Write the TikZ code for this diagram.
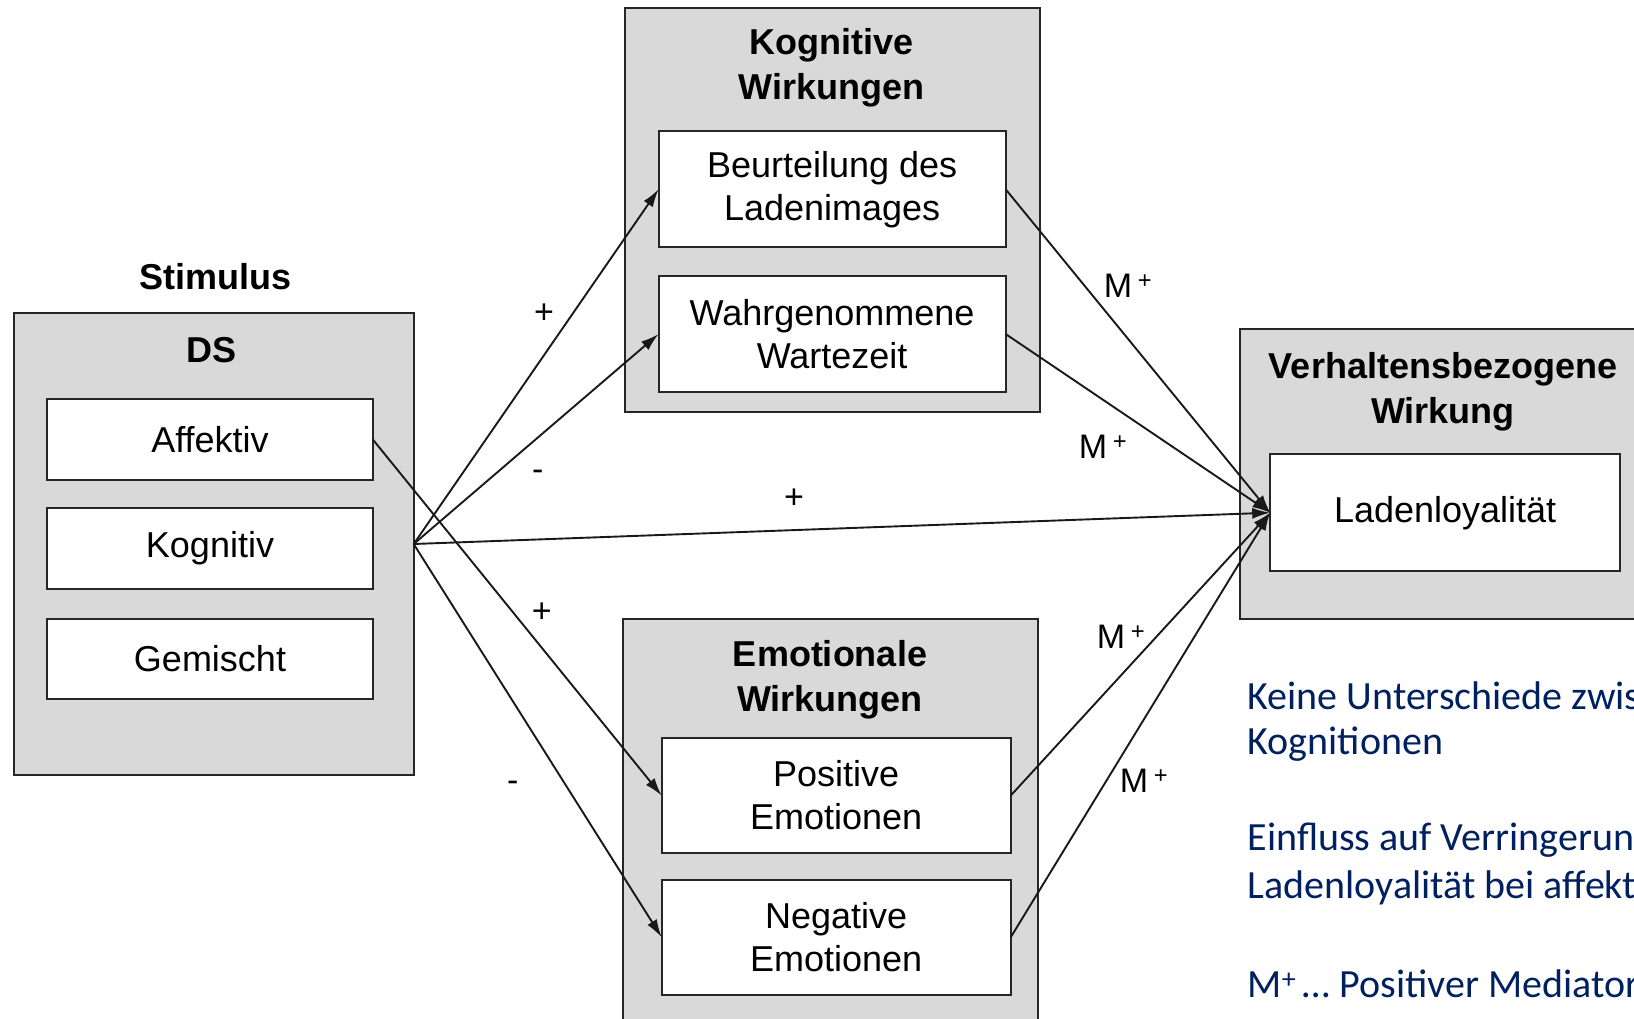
\documentclass[tikz,border=0pt]{standalone}
\usepackage{fontspec}
\setmainfont{Liberation Sans}
\newfontfamily\calib{Carlito}
\usetikzlibrary{arrows.meta}
\definecolor{boxgray}{HTML}{D9D9D9}
\definecolor{noteblue}{HTML}{002060}
\begin{document}
\begin{tikzpicture}[x=1pt,y=-1pt,
 outerbox/.style={draw=black!85, fill=boxgray, line width=2pt, inner sep=0pt, outer sep=0pt, anchor=north west},
 innerbox/.style={draw=black!85, fill=white, line width=2pt, inner sep=0pt, outer sep=0pt, align=center, font=\fontsize{36}{43}\selectfont},
 titletext/.style={font=\fontsize{36}{45}\selectfont\bfseries, align=center, inner sep=0pt},
 lab/.style={font=\fontsize{34}{40}\selectfont, inner sep=0pt},
 arr/.style={line width=1.9pt, draw=black!90, -{Latex[length=18pt,width=11pt]}},
 note/.style={font=\calib\fontsize{40}{48}\selectfont, text=noteblue, anchor=west, inner sep=0pt}
]
\useasboundingbox (0,0) rectangle (1634,1019);
\clip (0,0) rectangle (1634,1019);

% outer boxes
\node[outerbox, minimum width=400.2pt, minimum height=462.7pt] (ds) at (13.5,312.6) {};
\node[outerbox, minimum width=414.7pt, minimum height=403.3pt] (kw) at (625.3,8.3) {};
\node[outerbox, minimum width=414.8pt, minimum height=440pt] (ew) at (623.1,619) {};
\node[outerbox, minimum width=420pt, minimum height=289.7pt] (vb) at (1240,329.3) {};

% titles
\node[titletext] (stim) at (215.7,277) {Stimulus};
\node[titletext] (dst) at (211.5,350) {DS};
\node[titletext] (kwt) at (831.6,68) {Kognitive\\Wirkungen};
\node[titletext] (ewt) at (830,680) {Emotionale\\Wirkungen};
\node[titletext] (vbt) at (1443,392) {Verhaltensbezogene\\Wirkung};

% inner boxes
\node[innerbox, minimum width=326pt, minimum height=81.3pt] (aff) at (210,439.7) {Affektiv};
\node[innerbox, minimum width=326pt, minimum height=80.3pt] (kog) at (210,548.6) {Kognitiv};
\node[innerbox, minimum width=326pt, minimum height=80.3pt] (gem) at (210,659.1) {Gemischt};
\node[innerbox, minimum width=347pt, minimum height=115.7pt] (beu) at (832.1,189.2) {Beurteilung des\\Ladenimages};
\node[innerbox, minimum width=347pt, minimum height=115.7pt] (wah) at (832.1,334) {Wahrgenommene\\Wartezeit};
\node[innerbox, minimum width=349pt, minimum height=115.6pt] (pos) at (836.2,795.6) {Positive\\Emotionen};
\node[innerbox, minimum width=349pt, minimum height=115.6pt] (neg) at (836.2,937.3) {Negative\\Emotionen};
\node[innerbox, minimum width=350pt, minimum height=116.7pt] (lad) at (1445.2,512.7) {Ladenloyalität};

% connectors
\coordinate (src) at (ds.east |- 0,544);
\draw[arr] (src) -- (beu.west);
\draw[arr] (src) -- (wah.west);
\draw[arr] (src) -- (lad.west);
\draw[arr] (src) -- (neg.west);
\draw[arr] (aff.east) -- (pos.west);
\draw[arr] (beu.east) -- (lad.west);
\draw[arr] (wah.east) -- (lad.west);
\draw[arr] (pos.east) -- (lad.west);
\draw[arr] (neg.east) -- (lad.west);

% labels
\node[lab] (l1) at (544,313.5) {+};
\node[lab] (l2) at (537.7,475) {-};
\node[lab] (l3) at (794,499) {+};
\node[lab] (l4) at (541.9,612.5) {+};
\node[lab] (l5) at (512.7,786.5) {-};
\node[lab] (m1) at (1128,285.5) {M\,\textsuperscript{+}};
\node[lab] (m2) at (1103,447) {M\,\textsuperscript{+}};
\node[lab] (m3) at (1121,636.5) {M\,\textsuperscript{+}};
\node[lab] (m4) at (1144,780.4) {M\,\textsuperscript{+}};

% notes
\node[note] (n1) at (1247.4,696) {Keine Unterschiede zwis};
\node[note] (n2) at (1247.4,744) {Kognitionen};
\node[note] (n3) at (1247.4,840) {Einfluss auf Verringerun};
\node[note] (n4) at (1247.4,888) {Ladenloyalität bei affekt};
\node[note] (n5) at (1247.4,983.7) {M\textsuperscript{+}\,… Positiver Mediator};
\end{tikzpicture}
\end{document}
